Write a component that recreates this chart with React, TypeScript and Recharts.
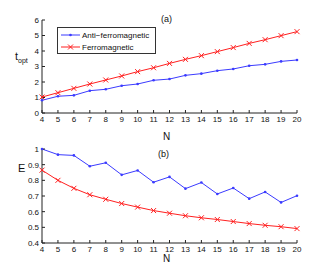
import React from 'react';
import { LineChart, Line, XAxis, YAxis } from 'recharts';

const nValues = [4, 5, 6, 7, 8, 9, 10, 11, 12, 13, 14, 15, 16, 17, 18, 19, 20];
const toptAnti = [0.82, 1.08, 1.14, 1.44, 1.53, 1.76, 1.87, 2.11, 2.19, 2.43, 2.54, 2.73, 2.84, 3.05, 3.14, 3.33, 3.42];
const toptFerro = [1.03, 1.31, 1.59, 1.87, 2.13, 2.39, 2.67, 2.92, 3.2, 3.46, 3.7, 3.96, 4.22, 4.49, 4.73, 4.99, 5.25];
const eAnti = [1.0, 0.964, 0.959, 0.89, 0.912, 0.835, 0.863, 0.788, 0.822, 0.747, 0.786, 0.713, 0.751, 0.683, 0.726, 0.659, 0.702];
const eFerro = [0.865, 0.8, 0.749, 0.708, 0.679, 0.652, 0.629, 0.607, 0.59, 0.574, 0.561, 0.55, 0.537, 0.524, 0.513, 0.504, 0.492];
const toptTicks = [0, 1, 2, 3, 4, 5, 6];
const eTicks = [0.4, 0.5, 0.6, 0.7, 0.8, 0.9, 1];

const BLUE = '#3b3bff';
const RED = '#ff2020';
const FONT = '"Liberation Sans", Arial, sans-serif';

const topData = nValues.map((n, i) => ({ n, anti: toptAnti[i], ferro: toptFerro[i] }));
const bottomData = nValues.map((n, i) => ({ n, anti: eAnti[i], ferro: eFerro[i] }));

const tickStyle = { fontSize: 8, fill: '#111', fontFamily: FONT };

const CrossDot = (props: any) => {
  const { cx, cy } = props;
  if (cx == null || cy == null) return null;
  const s = 2.5;
  return (
    <g stroke={RED} strokeWidth={1}>
      <line x1={cx - s} y1={cy - s} x2={cx + s} y2={cy + s} />
      <line x1={cx - s} y1={cy + s} x2={cx + s} y2={cy - s} />
    </g>
  );
};

const SmallDot = (props: any) => {
  const { cx, cy } = props;
  if (cx == null || cy == null) return null;
  return <circle cx={cx} cy={cy} r={1.3} fill={BLUE} />;
};

const label = (text: React.ReactNode, left: number, top: number, size = 9) => (
  <div style={{ position: 'absolute', left, top, fontSize: size, fontFamily: FONT, color: '#111', lineHeight: 1 }}>{text}</div>
);

function Panel({ data, top, height, margin, domain, ticks }: any) {
  return (
    <div style={{ position: 'absolute', left: 0, top }}>
      <LineChart width={327} height={height} data={data} margin={margin}>
        <XAxis
          dataKey="n"
          type="number"
          domain={[4, 20]}
          ticks={nValues}
          interval={0}
          height={20}
          tickSize={-3}
          tickMargin={6}
          tick={tickStyle}
          stroke="#222"
        />
        <YAxis
          type="number"
          domain={domain}
          ticks={ticks}
          width={20}
          tickSize={-3}
          tickMargin={6}
          tick={tickStyle}
          stroke="#222"
        />
        <Line dataKey="anti" stroke={BLUE} strokeWidth={1} dot={<SmallDot />} isAnimationActive={false} />
        <Line dataKey="ferro" stroke={RED} strokeWidth={1} dot={<CrossDot />} isAnimationActive={false} />
      </LineChart>
    </div>
  );
}

export default function App() {
  return (
    <div style={{ position: 'fixed', left: 0, top: 0, width: 327, height: 273, background: '#fff' }}>
      <Panel data={topData} top={0} height={135} margin={{ top: 20, right: 30, bottom: 2, left: 22 }} domain={[0, 6]} ticks={toptTicks} />
      <Panel data={bottomData} top={135} height={138} margin={{ top: 14, right: 30, bottom: 10, left: 22 }} domain={[0.4, 1]} ticks={eTicks} />
      {/* legend */}
      <div style={{ position: 'absolute', left: 57, top: 27, width: 99, height: 27, border: '1px solid #333', boxSizing: 'border-box', background: '#fff', fontFamily: FONT, fontSize: 8, color: '#111' }}>
        <svg width={99} height={27} style={{ position: 'absolute', left: 0, top: 0 }}>
          <line x1={3} y1={7} x2={22} y2={7} stroke={BLUE} strokeWidth={1} />
          <circle cx={12.5} cy={7} r={1.3} fill={BLUE} />
          <line x1={3} y1={19} x2={22} y2={19} stroke={RED} strokeWidth={1} />
          <CrossDot cx={12.5} cy={19} />
          <text x={24} y={10} fontSize={8} fontFamily={FONT} fill="#111">Anti−ferromagnetic</text>
          <text x={24} y={22} fontSize={8} fontFamily={FONT} fill="#111">Ferromagnetic</text>
        </svg>
      </div>
      {label('(a)', 161, 15)}
      {label('(b)', 158, 150)}
      {label(<span>t<sub style={{ fontSize: 7 }}>opt</sub></span>, 15, 51, 11)}
      {label('E', 18, 163, 11)}
      {label('N', 163, 132, 10)}
      {label('N', 163, 254, 10)}
    </div>
  );
}
